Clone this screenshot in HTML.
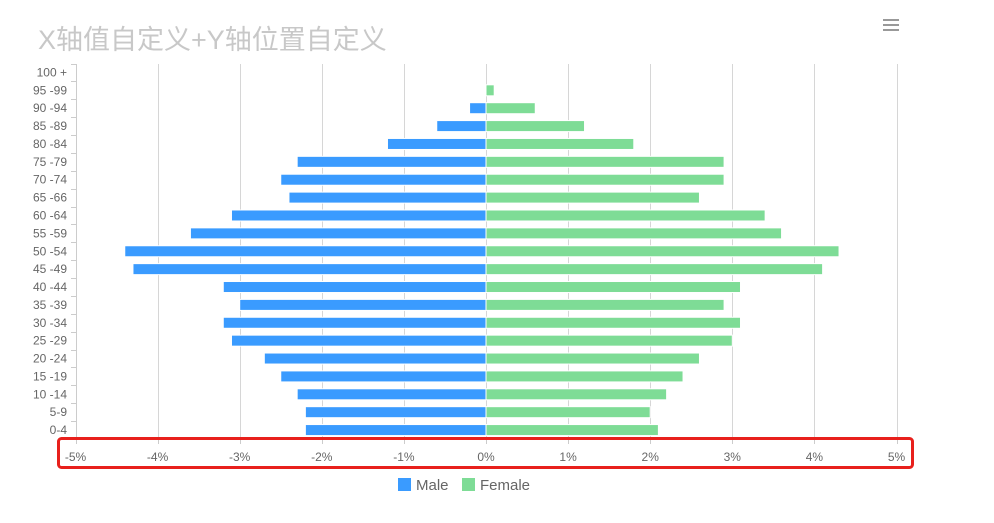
<!DOCTYPE html>
<html><head><meta charset="utf-8"><style>
html,body{margin:0;padding:0;background:#fff;}
svg{display:block;font-family:"Liberation Sans","Noto Sans CJK SC",sans-serif;}
</style></head><body>
<svg width="994" height="523" viewBox="0 0 994 523" xmlns="http://www.w3.org/2000/svg">
<text x="38" y="49" font-size="27" fill="#c8c8c8">X轴值自定义+Y轴位置自定义</text>
<g stroke="#999" stroke-width="2"><line x1="883" y1="20" x2="899" y2="20"/><line x1="883" y1="25" x2="899" y2="25"/><line x1="883" y1="30" x2="899" y2="30"/></g>
<g id="grid" stroke="#d6d6d6" stroke-width="1"></g>
<g id="bars"></g>
<line x1="76.5" y1="64" x2="76.5" y2="439" stroke="#ccc"/>
<g id="yl" font-size="12" fill="#666" text-anchor="end"></g>
<g id="xl" font-size="12" fill="#666" text-anchor="middle"></g>
<rect x="58.5" y="438.5" width="854" height="29" rx="3" fill="none" stroke="#e8201c" stroke-width="3"/>
<rect x="398" y="478" width="13" height="13" fill="#3a9bff"/>
<text x="416" y="490" font-size="15" fill="#666">Male</text>
<rect x="462" y="478" width="13" height="13" fill="#7edc96"/>
<text x="480" y="490" font-size="15" fill="#666">Female</text>
</svg>
<script>
(function(){
var ns="http://www.w3.org/2000/svg";
function el(p,t,a,txt){var e=document.createElementNS(ns,t);for(var k in a)e.setAttribute(k,a[k]);if(txt!=null)e.textContent=txt;document.getElementById(p).appendChild(e);}
var cats=["0-4","5-9","10 -14","15 -19","20 -24","25 -29","30 -34","35 -39","40 -44","45 -49","50 -54","55 -59","60 -64","65 -66","70 -74","75 -79","80 -84","85 -89","90 -94","95 -99","100 +"];
var m=[2.2,2.2,2.3,2.5,2.7,3.1,3.2,3.0,3.2,4.3,4.4,3.6,3.1,2.4,2.5,2.3,1.2,0.6,0.2,0,0];
var f=[2.1,2.0,2.2,2.4,2.6,3.0,3.1,2.9,3.1,4.1,4.3,3.6,3.4,2.6,2.9,2.9,1.8,1.2,0.6,0.1,0];
var x0=486,s=82.1,ytop=63.5,bot=439,band=(bot-ytop)/21;
for(var i=-4;i<=5;i++){var x=Math.round(x0+i*s)+0.5;el("grid","line",{x1:x,y1:64,x2:x,y2:439});}
for(var i=-5;i<=5;i++){var x=x0+i*s;el("grid","line",{x1:Math.round(x)+0.5,y1:439,x2:Math.round(x)+0.5,y2:444,stroke:"#ccc"});el("xl","text",{x:x,y:461},i+"%");}
for(var j=0;j<=21;j++){var y=Math.round(ytop+j*band)+0.5;el("grid","line",{x1:71,y1:y,x2:76,y2:y,stroke:"#ccc"});}
for(var k=0;k<21;k++){var cy=bot-(k+0.5)*band;
el("yl","text",{x:67,y:cy+4},cats[k]);
if(m[k]>0)el("bars","rect",{x:x0-m[k]*s,y:cy-5.5,width:m[k]*s,height:11,fill:"#3a9bff",stroke:"#fff","stroke-width":1});
if(f[k]>0)el("bars","rect",{x:x0,y:cy-5.5,width:f[k]*s,height:11,fill:"#7edc96",stroke:"#fff","stroke-width":1});}
})();
</script>
</body></html>
